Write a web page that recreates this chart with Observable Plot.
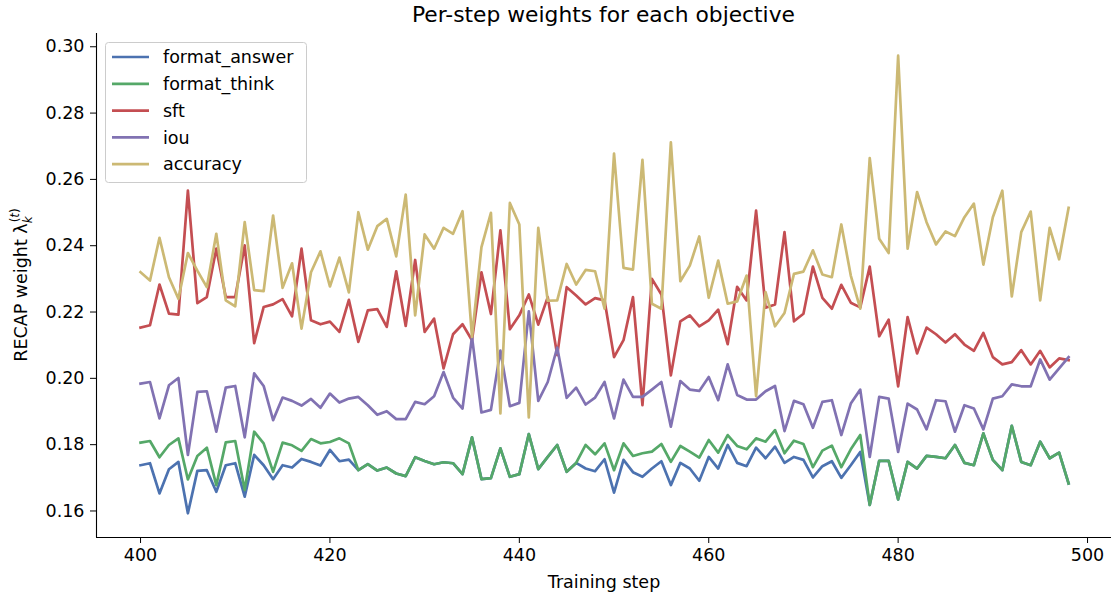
<!DOCTYPE html>
<html>
<head>
<meta charset="utf-8">
<script src="https://cdn.jsdelivr.net/npm/d3@7"></script>
<script src="https://cdn.jsdelivr.net/npm/@observablehq/plot@0.6"></script>
<style>
  html, body { margin: 0; padding: 0; background: white; }
  #title { width: 1015px; margin-left: 96px; height: 30px; line-height: 30px; text-align: center;
           font-family: "DejaVu Sans", sans-serif; font-size: 21.8px; color: black; }
</style>
</head>
<body>
<div id="title">Per-step weights for each objective</div>
<div id="chart"></div>
<script>
const firstStep = 400;
const seriesNames = ["format_answer", "format_think", "sft", "iou", "accuracy"];
const seriesColors = ["#4C72B0", "#55A868", "#C44E52", "#8172B2", "#CCB974"];
const xTicks = [400, 420, 440, 460, 480, 500];
const yTicks = [0.16, 0.18, 0.20, 0.22, 0.24, 0.26, 0.28, 0.30];
const xDomain = [395.35, 502.53];
const yDomain = [0.152, 0.304];

const formatAnswer = [
  .1738,.1744,.1653,.1726,.1748,.1593,.1721,.1723,.1658,.1738,.1744,.1643,.1769,.1738,.1696,.1738,.1731,.1757,.1748,.1737,.1784,.1750,.1755,
  .1723,.1741,.1722,.1731,.1713,.1705,.1762,.1751,.1741,.1747,.1744,.1711,.1822,.1696,.1699,.1789,.1703,.1711,.1832,.1726,.1763,.1799,.1718,.1745,
  .1728,.1720,.1756,.1655,.1754,.1717,.1703,.1728,.1750,.1678,.1745,.1728,.1691,.1763,.1728,.1799,.1745,.1735,.1791,.1759,.1794,.1745,.1763,.1754,.1701,.1735,.1750,.1700,.1738,.1778,
  .1618,.1751,.1751,.1635,.1748,.1728,.1766,.1763,.1759,.1799,.1745,.1738,.1834,.1754,.1723,.1857,.1748,.1738,.1809,.1759,.1776,.1683
];
const formatThink = [
  .1806,.1811,.1762,.1799,.1819,.1695,.1766,.1791,.1678,.1807,.1811,.1663,.1839,.1804,.1718,.1806,.1798,.1781,.1817,.1804,.1808,.1819,.1804,
  .1723,.1741,.1722,.1731,.1713,.1705,.1762,.1751,.1741,.1747,.1744,.1711,.1822,.1696,.1699,.1789,.1703,.1711,.1832,.1726,.1763,.1799,.1718,.1745,
  .1799,.1771,.1804,.1723,.1804,.1766,.1774,.1779,.1802,.1748,.1796,.1779,.1761,.1814,.1776,.1829,.1796,.1786,.1819,.1809,.1844,.1774,.1812,.1802,.1732,.1782,.1797,.1732,.1786,.1829,
  .1618,.1751,.1751,.1635,.1748,.1728,.1766,.1763,.1759,.1799,.1745,.1738,.1834,.1754,.1723,.1857,.1748,.1738,.1809,.1759,.1776,.1683
];
const sft = [
  .2153,.2160,.2283,.2195,.2192,.2566,.2227,.2245,.2391,.2245,.2245,.2401,.2106,.2215,.2223,.2239,.2187,.2391,.2175,.2163,.2171,.2140,.2237,
  .2110,.2205,.2209,.2155,.2323,.2158,.2357,.2140,.2180,.2030,.2133,.2163,.2115,.2320,.2194,.2446,.2148,.2190,.2253,.2162,.2245,.2070,.2275,.2250,
  .2223,.2242,.2235,.2064,.2115,.2245,.1919,.2300,.2253,.2009,.2172,.2190,.2157,.2175,.2207,.2103,.2276,.2235,.2506,.2213,.2223,.2441,.2172,.2195,.2337,.2243,.2210,.2282,.2228,.2214,
  .2337,.2127,.2177,.1976,.2185,.2075,.2153,.2133,.2108,.2133,.2102,.2083,.2137,.2064,.2042,.2049,.2085,.2042,.2083,.2033,.2060,.2055
];
const iou = [
  .1984,.1989,.1879,.1979,.2001,.1769,.1959,.1961,.1839,.1972,.1977,.1822,.2015,.1977,.1874,.1942,.1932,.1918,.1938,.1911,.1954,.1927,.1939,
  .1944,.1919,.1890,.1901,.1877,.1877,.1929,.1922,.1946,.2019,.1942,.1909,.2125,.1897,.1905,.2084,.1916,.1926,.2202,.1932,.1989,.2093,.1941,.1972,
  .1921,.1942,.1989,.1879,.1996,.1944,.1944,.1966,.1989,.1854,.1992,.1966,.1962,.2004,.1934,.2042,.1950,.1936,.1936,.1961,.1977,.1841,.1932,.1922,.1851,.1929,.1934,.1829,.1924,.1966,
  .1763,.1944,.1939,.1778,.1924,.1906,.1846,.1934,.1931,.1839,.1919,.1909,.1846,.1939,.1946,.1982,.1976,.1976,.2057,.1996,.2030,.2064
];
const accuracy = [
  .2320,.2295,.2424,.2305,.2240,.2378,.2325,.2275,.2436,.2235,.2217,.2471,.2266,.2263,.2491,.2273,.2347,.2150,.2320,.2383,.2277,.2364,.2259,
  .2501,.2388,.2459,.2481,.2368,.2554,.2190,.2434,.2391,.2454,.2436,.2504,.2125,.2396,.2499,.1894,.2529,.2464,.1882,.2454,.2234,.2235,.2345,.2283,
  .2327,.2323,.2210,.2678,.2333,.2328,.2659,.2225,.2210,.2712,.2293,.2340,.2428,.2243,.2355,.2225,.2232,.2310,.1946,.2260,.2157,.2197,.2315,.2322,.2386,.2313,.2305,.2464,.2310,.2210,
  .2664,.2421,.2378,.2973,.2391,.2562,.2471,.2404,.2443,.2429,.2486,.2527,.2343,.2486,.2566,.2247,.2441,.2503,.2235,.2454,.2359,.2514
];

const seriesValues = [formatAnswer, formatThink, sft, iou, accuracy];
const table = [];
seriesNames.forEach((name, k) => {
  seriesValues[k].forEach((v, i) => table.push({step: firstStep + i, value: v, series: name}));
});

const chart = Plot.plot({
  width: 1111,
  height: 565,
  marginLeft: 96,
  marginRight: 0,
  marginTop: 3,
  marginBottom: 58,
  style: {fontFamily: "DejaVu Sans, sans-serif", fontSize: "17.5px", color: "black", background: "white", overflow: "visible"},
  x: {domain: xDomain},
  y: {domain: yDomain},
  color: {domain: seriesNames, range: seriesColors},
  marks: [
    Plot.axisX({ticks: xTicks, tickSize: 6, tickPadding: 5, tickFormat: d => String(d), label: "Training step", labelAnchor: "center", labelArrow: "none", labelOffset: 50}),
    Plot.axisY({ticks: yTicks, tickSize: 6, tickPadding: 6, tickFormat: d3.format(".2f"), label: null}),
    Plot.ruleX([xDomain[0]], {stroke: "black", strokeWidth: 1.1}),
    Plot.ruleY([yDomain[0]], {stroke: "black", strokeWidth: 1.1}),
    Plot.lineY(table, {x: "step", y: "value", z: "series", stroke: "series", strokeWidth: 2.7, strokeLinejoin: "round", strokeLinecap: "square"})
  ]
});

document.getElementById("chart").appendChild(chart);

const svg = d3.select(chart);
// y label with sub/superscript
const yl = svg.append("text")
  .attr("transform", "translate(27,255) rotate(-90)")
  .attr("text-anchor", "middle")
  .attr("font-size", "17.5px")
  .attr("fill", "black");
yl.append("tspan").text("RECAP weight λ");
yl.append("tspan").attr("dy", 5).attr("font-size", "12px").attr("font-style", "italic").text("k");
yl.append("tspan").attr("dx", -6).attr("dy", -13).attr("font-size", "12px").text("(");
yl.append("tspan").attr("font-size", "12px").attr("font-style", "italic").text("t");
yl.append("tspan").attr("font-size", "12px").text(")");

// legend
const lg = svg.append("g").attr("text-anchor", "start");
lg.append("rect").attr("x", 105.5).attr("y", 12.5).attr("width", 201).attr("height", 140)
  .attr("rx", 3).attr("fill", "white").attr("fill-opacity", 0.8).attr("stroke", "#cccccc").attr("stroke-width", 1);
seriesNames.forEach((name, i) => {
  const cy = 27 + i * 26.8;
  lg.append("line").attr("x1", 112).attr("x2", 149).attr("y1", cy).attr("y2", cy)
    .attr("stroke", seriesColors[i]).attr("stroke-width", 2.7);
  lg.append("text").attr("x", 163).attr("y", cy).attr("dy", "0.35em").attr("text-anchor", "start")
    .attr("font-size", "17.5px").attr("fill", "black").text(name);
});
</script>
</body>
</html>
